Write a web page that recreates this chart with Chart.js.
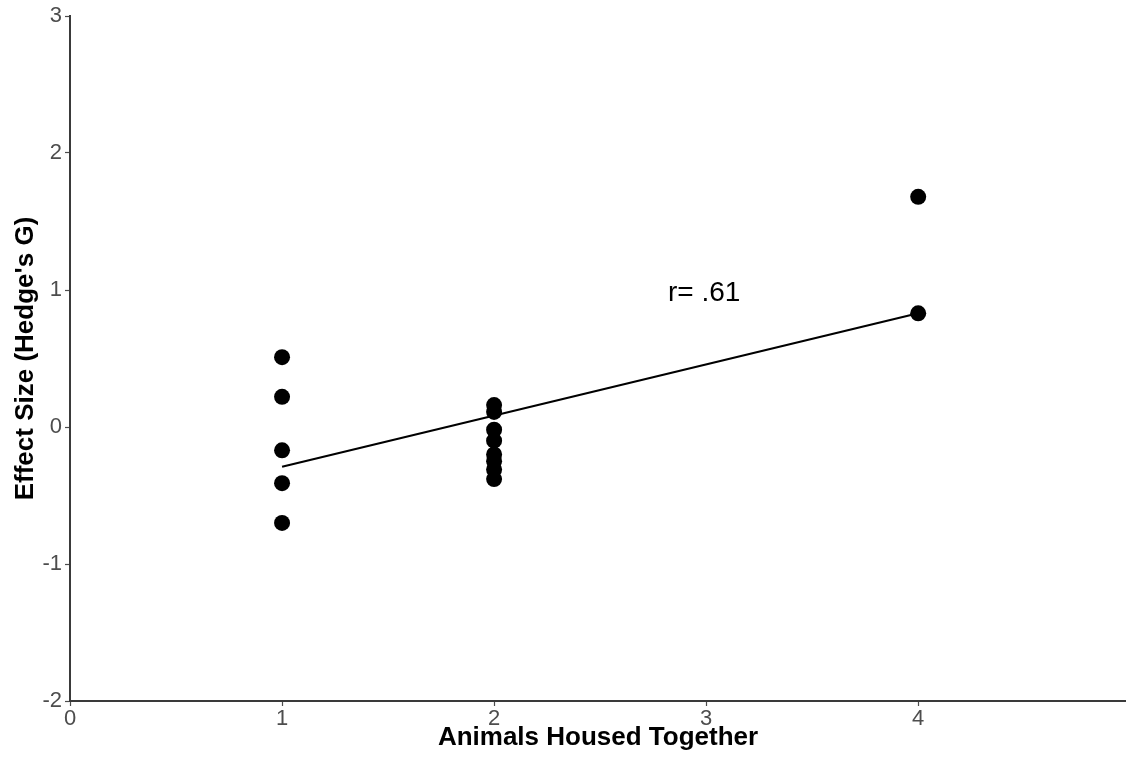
<!DOCTYPE html>
<html>
<head>
<meta charset="utf-8">
<script src="https://cdn.jsdelivr.net/npm/chart.js@4/dist/chart.umd.min.js"></script>
<style>
  html, body { margin: 0; padding: 0; background: #ffffff; }
  #wrap { width: 1126px; height: 759px; }
</style>
</head>
<body>
<div id="wrap"><canvas id="c" width="1126" height="759"></canvas></div>
<script>
// Number of animals housed together per study, and each study's effect size
const housedX = [1, 1, 1, 1, 1, 2, 2, 2, 2, 2, 2, 2, 2, 4, 4];
const effectY = [0.51, 0.22, -0.17, -0.41, -0.70, 0.16, 0.11, -0.02, -0.10, -0.20, -0.25, -0.31, -0.38, 1.68, 0.83];

// Least-squares fit line endpoints
const fitX = [1, 4];
const fitY = [-0.29, 0.83];

// Axis ticks
const xTicks = [0, 1, 2, 3, 4];
const yTicks = [-2, -1, 0, 1, 2, 3];

// Correlation note
const noteText = 'r= .61';
const noteAt = { x: 3, y: 1 };

const points = housedX.map((x, i) => ({ x: x, y: effectY[i] }));
const fitLine = fitX.map((x, i) => ({ x: x, y: fitY[i] }));

const noteLabel = {
  id: 'noteLabel',
  afterDatasetsDraw(chart) {
    const ctx = chart.ctx;
    const px = chart.scales.x.getPixelForValue(noteAt.x);
    const py = chart.scales.y.getPixelForValue(noteAt.y);
    ctx.save();
    ctx.font = '28px "Liberation Sans", Arial, sans-serif';
    ctx.fillStyle = '#000000';
    ctx.textAlign = 'center';
    ctx.textBaseline = 'middle';
    ctx.fillText(noteText, px - 2, py + 3);
    ctx.restore();
  }
};

const tickFont = { family: '"Liberation Sans", Arial, sans-serif', size: 22 };
const titleFont = { family: '"Liberation Sans", Arial, sans-serif', size: 26, weight: 'bold', lineHeight: 1.2 };

new Chart(document.getElementById('c'), {
  type: 'scatter',
  data: {
    datasets: [
      {
        type: 'line',
        data: fitLine,
        borderColor: '#000000',
        borderWidth: 2.2,
        pointRadius: 0,
        fill: false,
        order: 2
      },
      {
        type: 'scatter',
        data: points,
        backgroundColor: '#000000',
        borderColor: '#000000',
        pointRadius: 8,
        pointHoverRadius: 8,
        borderWidth: 0,
        order: 1
      }
    ]
  },
  options: {
    responsive: false,
    animation: false,
    events: [],
    layout: { autoPadding: false, padding: { top: 16, right: 0, left: 0, bottom: 0 } },
    plugins: {
      legend: { display: false },
      tooltip: { enabled: false }
    },
    scales: {
      x: {
        type: 'linear',
        min: 0,
        max: 4.98,
        afterBuildTicks(scale) { scale.ticks = xTicks.map(v => ({ value: v })); },
        afterFit(scale) { scale.height = 58; scale.paddingLeft = 0; scale.paddingRight = 0; },
        grid: { display: true, drawOnChartArea: false, drawTicks: true, tickLength: 5, color: '#4d4d4d', tickWidth: 1.2 },
        border: { display: true, color: '#3a3a3a', width: 2 },
        ticks: { color: '#4d4d4d', font: tickFont, padding: 0, maxRotation: 0, autoSkip: false },
        title: { display: true, text: 'Animals Housed Together', color: '#000000', font: titleFont, padding: { top: 0, bottom: 6 } }
      },
      y: {
        type: 'linear',
        min: -2,
        max: 3,
        afterBuildTicks(scale) { scale.ticks = yTicks.map(v => ({ value: v })); },
        afterFit(scale) { scale.width = 70; scale.paddingTop = 0; scale.paddingBottom = 0; },
        grid: { display: true, drawOnChartArea: false, drawTicks: true, tickLength: 5, color: '#4d4d4d', tickWidth: 1.2 },
        border: { display: true, color: '#3a3a3a', width: 2 },
        ticks: { color: '#4d4d4d', font: tickFont, padding: 3, autoSkip: false },
        title: { display: true, text: "Effect Size (Hedge's G)", color: '#000000', font: titleFont, padding: { top: 10, bottom: 8 } }
      }
    }
  },
  plugins: [noteLabel]
});
</script>
</body>
</html>
